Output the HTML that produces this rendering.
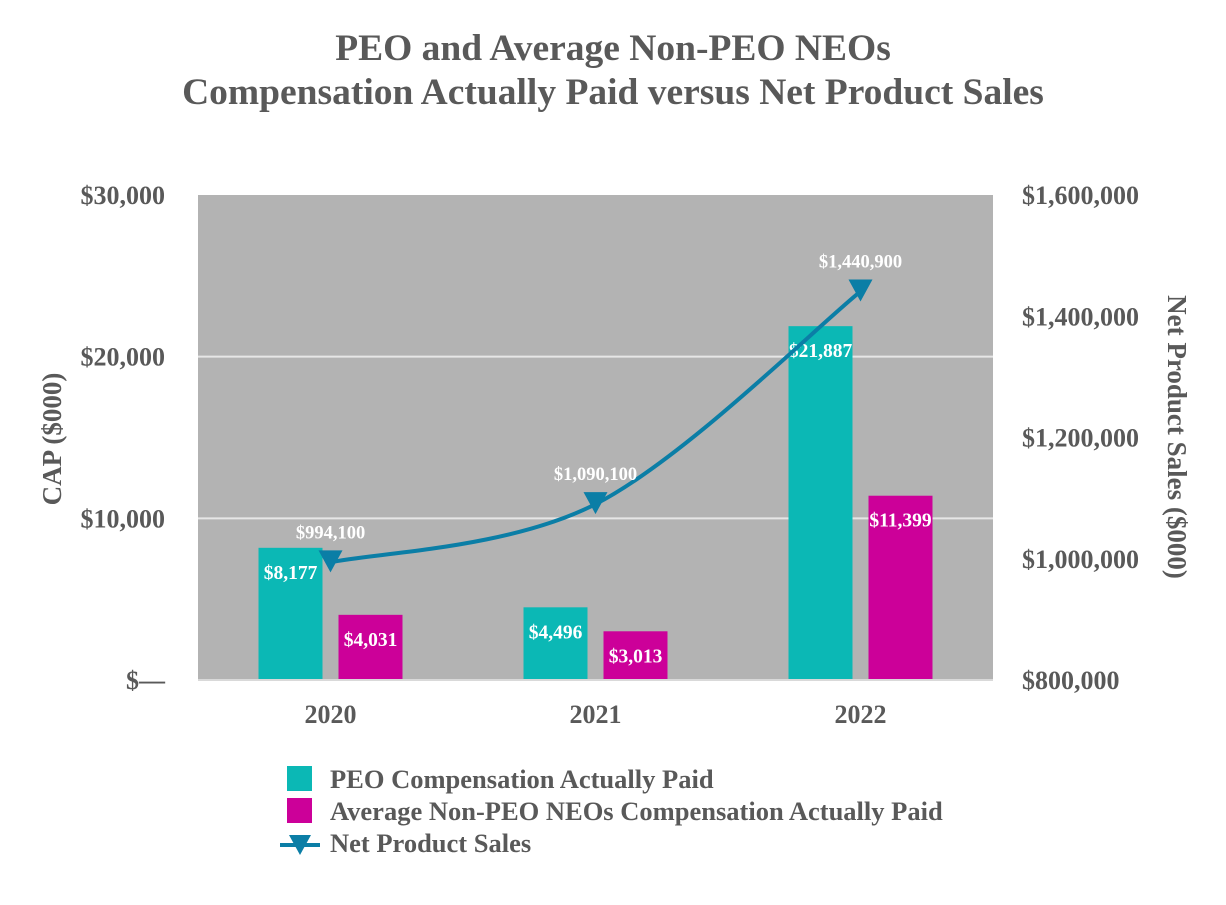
<!DOCTYPE html>
<html><head><meta charset="utf-8"><style>
html,body{margin:0;padding:0;background:#fff;}
svg text{font-family:"Liberation Serif",serif;font-weight:bold;}
</style></head><body>
<svg id="chart" width="1226" height="900" xmlns="http://www.w3.org/2000/svg">
<text x="613" y="60" text-anchor="middle" font-size="37.5" fill="#595959">PEO and Average Non-PEO NEOs</text>
<text x="613" y="104" text-anchor="middle" font-size="37.5" fill="#595959">Compensation Actually Paid versus Net Product Sales</text>
<rect x="198" y="195" width="795" height="485" fill="#b3b3b3"/>
<g id="grid"></g><g id="bars"></g><g id="line"></g><g id="axes"></g>
<text transform="translate(61,439) rotate(-90)" text-anchor="middle" font-size="27" fill="#595959">CAP ($000)</text>
<text transform="translate(1168,437) rotate(90)" text-anchor="middle" font-size="27" fill="#595959">Net Product Sales ($000)</text>
<rect x="287" y="766" width="25" height="25" fill="#0bb8b5"/>
<text x="330" y="788" font-size="26.5" fill="#595959">PEO Compensation Actually Paid</text>
<rect x="287" y="798" width="25" height="25" fill="#cc0099"/>
<text x="330" y="820" font-size="26.5" fill="#595959">Average Non-PEO NEOs Compensation Actually Paid</text>
<line x1="280" y1="845" x2="320" y2="845" stroke="#0b7ea6" stroke-width="4"/>
<polygon points="289,835 311,835 300,855" fill="#0b7ea6"/>
<text x="330" y="852" font-size="26.5" fill="#595959">Net Product Sales</text>
</svg>
<script>
const categories=["2020","2021","2022"];
const peoValues=[8177,4496,21887];
const neoValues=[4031,3013,11399];
const salesValues=[994100,1090100,1440900];
const leftTicks=[0,10000,20000,30000];
const leftTickLabels=["$—","$10,000","$20,000","$30,000"];
const rightTicks=[800000,1000000,1200000,1400000,1600000];
const rightTickLabels=["$800,000","$1,000,000","$1,200,000","$1,400,000","$1,600,000"];
const peoLabels=["$8,177","$4,496","$21,887"];
const neoLabels=["$4,031","$3,013","$11,399"];
const salesLabels=["$994,100","$1,090,100","$1,440,900"];

const NS="http://www.w3.org/2000/svg";
const X0=198,X1=993,Y0=680,Y1=195;
const band=(X1-X0)/categories.length;
const xc=i=>X0+band*(i+0.5);
const yL=v=>Y0-(v/30000)*(Y0-Y1);
const yR=v=>Y0-((v-800000)/800000)*(Y0-Y1);
function mk(tag,attrs,parent,text){const e=document.createElementNS(NS,tag);for(const k in attrs)e.setAttribute(k,attrs[k]);if(text!==undefined)e.textContent=text;document.getElementById(parent).appendChild(e);return e;}

leftTicks.forEach((t,i)=>{
  if(t>0&&t<30000){const g=mk('line',{x1:X0,x2:X1,y1:yL(t),y2:yL(t),stroke:'#e6e6e6','stroke-width':2},'grid');
  
  }
  const l=mk('text',{x:165,y:yL(t)+9,'text-anchor':'end','font-size':26,fill:'#595959'},'axes',leftTickLabels[i]);
  
  
});
const base=mk('line',{x1:X0,x2:X1,y1:Y0,y2:Y0,stroke:'#d9d9d9','stroke-width':2},'axes');


rightTicks.forEach((t,i)=>{
  const l=mk('text',{x:1022,y:yR(t)+9,'font-size':26,fill:'#595959'},'axes',rightTickLabels[i]);
  
  
});
categories.forEach((c,i)=>{
  const l=mk('text',{x:xc(i),y:723,'text-anchor':'middle','font-size':26,fill:'#595959'},'axes',c);
  
  
  const bw=64;
  const b1=mk('rect',{x:xc(i)-72,y:yL(peoValues[i]),width:bw,height:Y0-yL(peoValues[i]),fill:'#0bb8b5'},'bars');
  
  
  const b2=mk('rect',{x:xc(i)+8,y:yL(neoValues[i]),width:bw,height:Y0-yL(neoValues[i]),fill:'#cc0099'},'bars');
  
  
  const t1=mk('text',{x:xc(i)-40,y:yL(peoValues[i])+31,'text-anchor':'middle','font-size':19.5,fill:'#fff'},'bars',peoLabels[i]);
  
  
  const t2=mk('text',{x:xc(i)+40,y:yL(neoValues[i])+31,'text-anchor':'middle','font-size':19.5,fill:'#fff'},'bars',neoLabels[i]);
  
  
});
const pts=salesValues.map((v,i)=>[xc(i),yR(v)]);
let d=`M${pts[0][0]},${pts[0][1]}`;
for(let i=0;i<pts.length-1;i++){
  const p0=pts[Math.max(0,i-1)],p1=pts[i],p2=pts[i+1],p3=pts[Math.min(pts.length-1,i+2)];
  const t=1/6;
  d+=` C${p1[0]+(p2[0]-p0[0])*t},${p1[1]+(p2[1]-p0[1])*t} ${p2[0]-(p3[0]-p1[0])*t},${p2[1]-(p3[1]-p1[1])*t} ${p2[0]},${p2[1]}`;
}
const path=mk('path',{d:d,fill:'none',stroke:'#0b7ea6','stroke-width':4},'line');


pts.forEach((p,i)=>{
  const m=mk('polygon',{points:`${p[0]-12},${p[1]-12} ${p[0]+12},${p[1]-12} ${p[0]},${p[1]+10}`,fill:'#0b7ea6'},'line');
  
  
  const t=mk('text',{x:p[0],y:p[1]-24,'text-anchor':'middle','font-size':18.5,fill:'#fff'},'line',salesLabels[i]);
  
  
});
</script>
</body></html>
